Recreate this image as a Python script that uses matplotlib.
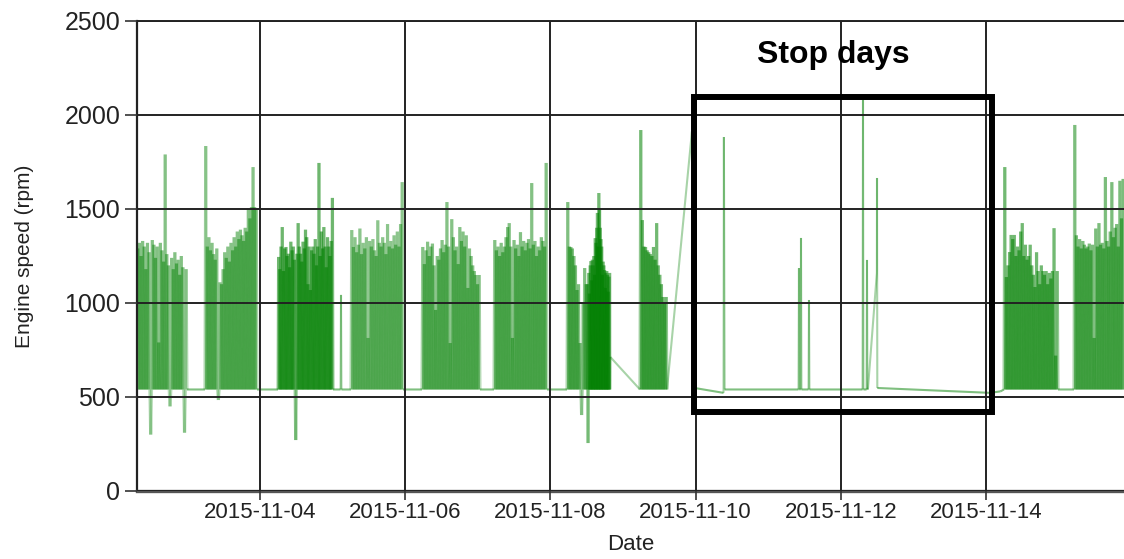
import numpy as np
import matplotlib
matplotlib.use("Agg")
import matplotlib.pyplot as plt
import matplotlib.dates as mdates
from matplotlib.collections import LineCollection
from matplotlib.patches import Rectangle
from datetime import datetime

# ---------------- data (engine speed, rpm) ----------------
ref_day = datetime(2015, 11, 4)          # day offsets below are relative to this date
idle_rpm = 540

# operating blocks: (start offset, end offset) in days, and the read peak values
blkA_span = (-1.694, -1.006)
blkA_vals = [1290, 1320, 1250, 1330, 1300, 1180, 1320, 1270, 300, 1335, 1310, 1240, 1300,
             790, 1320, 1280, 1220, 1790, 1260, 1200, 450, 1240, 1180, 1270, 1210, 1230,
             1150, 1250, 1190, 310, 1180]
blkB_span = (-0.758, -0.041)
blkB_vals = [1835, 1300, 1350, 1280, 1320, 1260, 1230, 1290, 484, 1110, 1100, 1180, 1270,
             1240, 1300, 1220, 1320, 1280, 1350, 1300, 1380, 1340, 1390, 1360, 1330, 1400,
             1380, 1500, 1450, 1510, 1723, 1510, 1500]
blkC_span = (0.248, 1.006)
blkC_vals = [1245, 1180, 1300, 1404, 1170, 1290, 1298, 1250, 1262, 1190, 1326, 1280, 1300,
             1230, 271, 1262, 1425, 1300, 1262, 1220, 1326, 1290, 1390, 1350, 1100, 1300,
             1069, 1280, 1300, 1262, 1340, 1200, 1300, 1745, 1250, 1380, 1290, 1404, 1300,
             1190, 1350, 1300, 1250, 1330, 1559]
blkD_span = (1.253, 1.970)
blkD_vals = [1388, 1298, 1350, 1270, 1310, 1396, 1260, 1320, 1290, 1350, 814, 1330, 1300,
             1340, 1280, 1250, 1440, 1320, 1300, 1350, 1320, 1260, 1420, 1300, 1330, 1290,
             1360, 1310, 1380, 1300, 1420, 1643]
blkE_span = (2.231, 3.030)
blkE_vals = [1298, 1207, 1280, 1326, 1250, 1300, 1316, 1200, 963, 1250, 1230, 1290, 1335,
             1270, 1310, 1537, 1300, 787, 1446, 1350, 1280, 1300, 1207, 1404, 1330, 1380,
             1300, 1360, 1080, 1290, 1250, 1200, 1170, 1149, 1100, 1149]
blkF_span = (3.223, 3.953)
blkF_vals = [1335, 1280, 1300, 1250, 1320, 1270, 1300, 1350, 1404, 1425, 1300, 814, 1335,
             1290, 1310, 1250, 1377, 1300, 1330, 1280, 1320, 1340, 1290, 1638, 1310, 1330,
             1250, 1300, 1280, 1350, 1330, 1300, 1745]
blkG_span = (4.229, 4.504)
blkG_vals = [1537, 1300, 1298, 1290, 1250, 1200, 1069, 1100, 787, 404, 1000, 1186, 1100]
blkH_span = (4.504, 4.821)
blkH_vals = [1100, 255, 1160, 1050, 1200, 1223, 1120, 1230, 1200, 1250, 1150, 1345, 1320,
             1400, 1479, 1300, 1585, 1500, 1400, 1340, 1300, 1150, 1220, 1200, 1175, 1080,
             1160, 1170, 1150, 1060, 1140, 1160]
blkI_span = (5.234, 5.606)
blkI_vals = [1920, 1441, 1300, 1298, 1280, 1270, 1260, 1250, 1298, 1230, 1425, 1200, 1150,
             1100, 1032, 1000, 1032]
blkJ_span = (10.248, 10.992)
blkJ_vals = [1723, 1138, 1200, 1271, 1362, 1340, 1362, 1250, 1300, 1280, 1380, 1425, 1250,
             1310, 1230, 1250, 1310, 1200, 1150, 1085, 1270, 1170, 1100, 1200, 1170, 1150,
             1170, 1100, 1160, 1130, 1170, 1398, 720, 1170]
blkK_span = (11.212, 11.900)
blkK_vals = [1947, 1360, 1300, 1340, 1290, 1330, 1310, 1290, 1300, 1316, 1280, 1310, 814,
             1396, 1300, 1425, 1310, 1320, 1290, 1670, 1330, 1300, 1380, 1643, 1350, 1400,
             1420, 1300, 1650, 1450, 1660]

# single readings between blocks (day offset, rpm)
extra_t = [1.110, 1.116, 1.122, 4.825,
           5.950, 5.985, 6.385, 6.390, 6.400,
           7.418, 7.424, 7.430, 7.446, 7.452, 7.458, 7.556, 7.562, 7.568,
           8.300, 8.306, 8.312, 8.355, 8.361, 8.367, 8.375, 8.497, 8.499, 8.503,
           10.055, 10.200]
extra_v = [540, 1043, 540, 713,
           1913, 548, 522, 1883, 540,
           540, 1186, 540, 540, 1346, 540, 540, 1016, 540,
           540, 2080, 540, 540, 1229, 540, 548, 1160, 1665, 548,
           522, 530]

# annotation box (day offsets / rpm)
box_t = (5.972, 10.076)
box_v = (420, 2096)
stop_label = "Stop days"
stop_pos = (7.893, 2319)

tick_days = [0, 2, 4, 6, 8, 10]
y_ticks = [0, 500, 1000, 1500, 2000, 2500]

# ---------------- build series ----------------
base_num = mdates.date2num(ref_day)
blocks = [(blkA_span, blkA_vals), (blkB_span, blkB_vals), (blkC_span, blkC_vals),
          (blkD_span, blkD_vals), (blkE_span, blkE_vals), (blkF_span, blkF_vals),
          (blkG_span, blkG_vals), (blkH_span, blkH_vals), (blkI_span, blkI_vals),
          (blkJ_span, blkJ_vals), (blkK_span, blkK_vals)]
# shading strength of each block's stroke (style only)
block_alpha = [0.28, 0.27, 0.34, 0.26, 0.275, 0.28, 0.29, 0.32, 0.33, 0.33, 0.30]

ts, vs, grp = [], [], []
for b, ((t0, t1), vals) in enumerate(blocks):
    n = len(vals)
    tt = np.linspace(t0, t1, 2 * n + 1)
    vv = [idle_rpm]
    for v in vals:
        vv += [v, idle_rpm]
    ts += list(tt)
    vs += vv
    grp += [b] * len(tt)
ts += extra_t
vs += extra_v
grp += [-1] * len(extra_t)
order = np.argsort(ts, kind="stable")
t_arr = np.asarray(ts)[order] + base_num
v_arr = np.asarray(vs, dtype=float)[order]
g_arr = np.asarray(grp)[order]

pts = np.column_stack([t_arr, v_arr])
segs = np.stack([pts[:-1], pts[1:]], axis=1)
seg_colors, seg_widths = [], []
for i in range(len(segs)):
    g0, g1 = g_arr[i], g_arr[i + 1]
    if g0 == g1 and g0 >= 0:
        seg_colors.append((0.0, 0.5, 0.0, block_alpha[g0]))
        seg_widths.append(2.3)
    else:
        dv = abs(v_arr[i + 1] - v_arr[i])
        seg_colors.append((0.0, 0.5, 0.0, 0.5 if dv < 100 else 0.34))
        seg_widths.append(1.5)

# ---------------- figure ----------------
fig = plt.figure(figsize=(11.24, 5.59), dpi=100)
ax = fig.add_axes([137 / 1124, 68 / 559, 1 - 137 / 1124, (491 - 21) / 559])

lc = LineCollection(segs, colors=seg_colors, linewidths=seg_widths, zorder=2)
lc.set_snap(False)
ax.add_collection(lc)

ax.set_xlim(base_num - 1.694, base_num + 11.901)
ax.set_ylim(0, 2500)
ax.set_xticks([base_num + d for d in tick_days])
ax.xaxis.set_major_formatter(mdates.DateFormatter("%Y-%m-%d"))
ax.set_yticks(y_ticks)

ax.set_axisbelow(False)
ax.grid(True, color="#222222", linewidth=1.4)

ax.spines["right"].set_visible(False)
ax.spines["top"].set_color("#222222")
ax.spines["top"].set_linewidth(1.4)
ax.spines["left"].set_color("#222222")
ax.spines["left"].set_linewidth(1.6)
ax.spines["bottom"].set_color("#555555")
ax.spines["bottom"].set_linewidth(2.4)

ax.tick_params(axis="y", length=9, width=1.2, color="#333333", pad=3,
               labelsize=18, labelcolor="#222222")
ax.tick_params(axis="x", length=6.5, width=1.2, color="#333333", pad=1.5,
               labelsize=16, labelcolor="#222222")
for lab in ax.get_yticklabels():
    lab.set_family(["Liberation Sans", "DejaVu Sans"])
for lab in ax.get_xticklabels():
    lab.set_family(["Liberation Sans", "DejaVu Sans"])

ax.set_xlabel("Date", fontsize=16, family=["Liberation Sans", "DejaVu Sans"],
              color="#222222", labelpad=8)
ax.set_ylabel("Engine speed (rpm)", fontsize=15, family=["Liberation Sans", "DejaVu Sans"],
              color="#222222")
ax.yaxis.set_label_coords(-0.104, 0.5)

rect = Rectangle((base_num + box_t[0], box_v[0]), box_t[1] - box_t[0], box_v[1] - box_v[0],
                 fill=False, edgecolor="black", linewidth=4.3, zorder=5)
ax.add_patch(rect)
ax.text(base_num + stop_pos[0], stop_pos[1], stop_label, ha="center", va="center",
        fontsize=23, fontweight="bold", family=["Liberation Sans", "DejaVu Sans"],
        color="black", zorder=6)

fig.savefig("out.png", dpi=100)
